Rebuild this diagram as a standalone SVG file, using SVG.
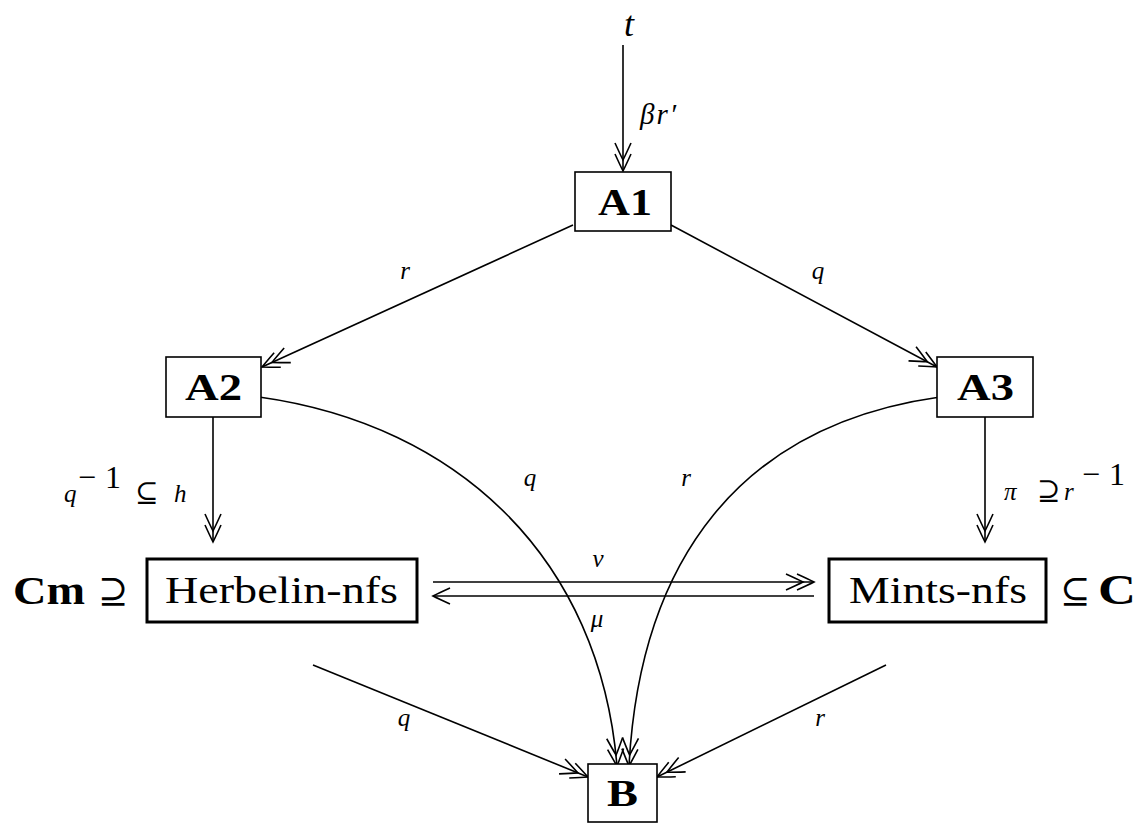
<svg xmlns="http://www.w3.org/2000/svg" width="1141" height="825" viewBox="0 0 1141 825">
<style>
.ln{fill:none;stroke:#000;stroke-width:1.6}
.bx{fill:#fff;stroke:#000;stroke-width:1.6}
.bxk{fill:#fff;stroke:#000;stroke-width:3}
.m{font-family:"Liberation Serif","DejaVu Serif",serif;font-style:italic;font-size:25px;fill:#000}
.b{font-family:"Liberation Serif","DejaVu Serif",serif;font-weight:bold;fill:#000}
.r{font-family:"Liberation Serif","DejaVu Serif",serif;fill:#000}
</style>
<defs>
<marker id="h1" markerUnits="userSpaceOnUse" viewBox="-20 -10 22 20" refX="0" refY="0" markerWidth="22" markerHeight="20" orient="auto" overflow="visible">
<path d="M-17,-8 Q-6,-3 0,0 Q-6,3 -17,8" fill="none" stroke="#000" stroke-width="1.6"/>
</marker>
<marker id="h2" markerUnits="userSpaceOnUse" viewBox="-30 -10 32 20" refX="0" refY="0" markerWidth="32" markerHeight="20" orient="auto" overflow="visible">
<path d="M-17,-8 Q-6,-3 0,0 Q-6,3 -17,8 M-28,-8 Q-17,-3 -11,0 Q-17,3 -28,8" fill="none" stroke="#000" stroke-width="1.6"/>
</marker>
</defs>
<g id="connectors">
<line class="ln" x1="623" y1="45" x2="623" y2="171" marker-end="url(#h2)"/>
<line class="ln" x1="573" y1="225" x2="262" y2="367" marker-end="url(#h2)"/>
<line class="ln" x1="671" y1="225" x2="937" y2="367" marker-end="url(#h2)"/>
<line class="ln" x1="213" y1="417" x2="213" y2="542" marker-end="url(#h2)"/>
<line class="ln" x1="985" y1="417" x2="985" y2="542" marker-end="url(#h2)"/>
<path class="ln" d="M259,397 C460,425 600,560 617,766" marker-end="url(#h2)"/>
<path class="ln" d="M940,397 C740,425 640,560 629,766" marker-end="url(#h2)"/>
<line class="ln" x1="433" y1="582" x2="814" y2="582" marker-end="url(#h2)"/>
<line class="ln" x1="814" y1="596" x2="433" y2="596" marker-end="url(#h1)"/>
<line class="ln" x1="313" y1="665" x2="588" y2="777" marker-end="url(#h2)"/>
<line class="ln" x1="886" y1="665" x2="657" y2="777" marker-end="url(#h2)"/>
</g>
<g id="labels">
<text class="m" x="629" y="36" text-anchor="middle" style="font-size:36px">t</text>
<text class="m" x="640" y="124" style="font-size:29px" letter-spacing="2">βr′</text>
<text class="m" x="405" y="279" text-anchor="middle">r</text>
<text class="m" x="818" y="279" text-anchor="middle">q</text>
<text class="m" x="530" y="486" text-anchor="middle">q</text>
<text class="m" x="686" y="486" text-anchor="middle">r</text>
<text class="m" x="598" y="567" text-anchor="middle">ν</text>
<text class="m" x="597" y="627" text-anchor="middle">μ</text>
<text class="m" x="404" y="726" text-anchor="middle">q</text>
<text class="m" x="820" y="726" text-anchor="middle">r</text>
<text class="m" x="64" y="502">q</text>
<text class="r" x="78" y="488" font-size="32" letter-spacing="9">−1</text>
<text class="r" x="135" y="502" font-size="28">⊆</text>
<text class="m" x="174" y="502">h</text>
<text class="m" x="1004" y="500">π</text>
<text class="r" x="1037" y="500" font-size="28">⊇</text>
<text class="m" x="1064" y="500">r</text>
<text class="r" x="1082" y="485" font-size="32" letter-spacing="9">−1</text>
<text class="b" x="13" y="604" font-size="40" textLength="72" lengthAdjust="spacingAndGlyphs">Cm</text>
<text class="r" x="98" y="603" font-size="36">⊇</text>
<text class="r" x="1060" y="603" font-size="36">⊆</text>
<text class="b" x="1098" y="604" font-size="42" textLength="38" lengthAdjust="spacingAndGlyphs">C</text>
</g>
<g id="A1"><rect class="bx" x="575" y="172" width="96" height="59"/><text class="b" x="598" y="215" font-size="38" textLength="54" lengthAdjust="spacingAndGlyphs">A1</text></g>
<g id="A2"><rect class="bx" x="166" y="357" width="95" height="60"/><text class="b" x="185" y="400" font-size="38" textLength="57" lengthAdjust="spacingAndGlyphs">A2</text></g>
<g id="A3"><rect class="bx" x="937" y="357" width="96" height="60"/><text class="b" x="957" y="400" font-size="38" textLength="57" lengthAdjust="spacingAndGlyphs">A3</text></g>
<g id="Herbelin"><rect class="bxk" x="147" y="559" width="270" height="63"/><text class="r" x="165" y="603" font-size="38" textLength="233" lengthAdjust="spacingAndGlyphs">Herbelin-nfs</text></g>
<g id="Mints"><rect class="bxk" x="829" y="559" width="217" height="63"/><text class="r" x="849" y="603" font-size="38" textLength="178" lengthAdjust="spacingAndGlyphs">Mints-nfs</text></g>
<g id="B"><rect class="bx" x="588" y="764" width="69" height="58"/><text class="b" x="607" y="806" font-size="38" textLength="31" lengthAdjust="spacingAndGlyphs">B</text></g>
</svg>
